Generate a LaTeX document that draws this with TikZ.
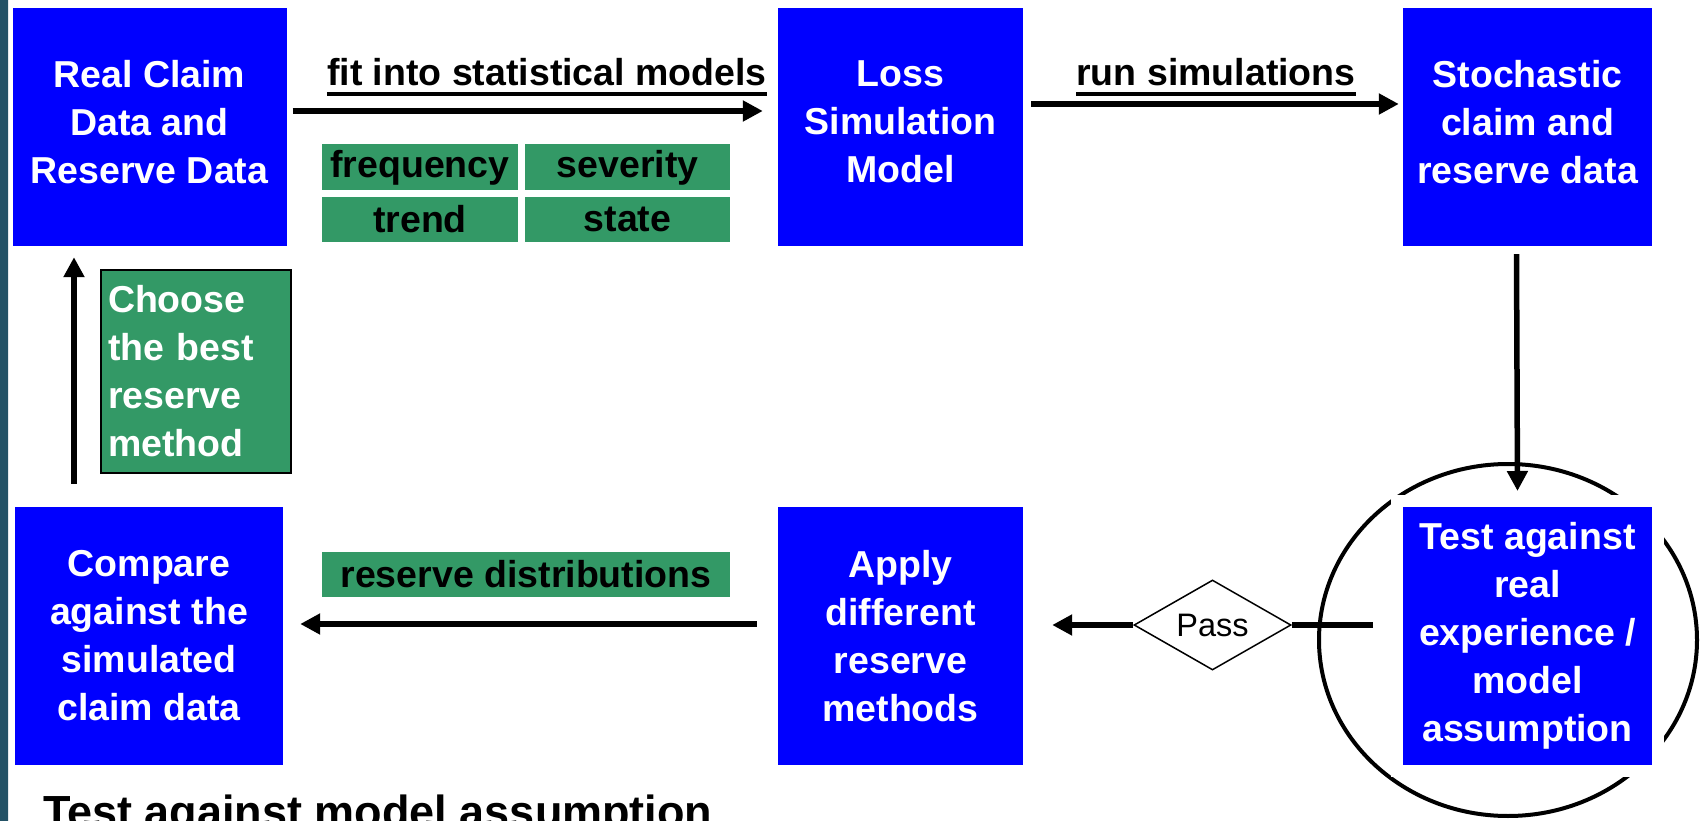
\documentclass[tikz,border=0pt]{standalone}
\usepackage{fontspec}
\setmainfont{Liberation Sans}
\usetikzlibrary{arrows.meta,shapes.geometric,calc}
\definecolor{boxblue}{RGB}{0,0,255}
\definecolor{boxgreen}{RGB}{51,153,102}
\definecolor{barteal}{RGB}{36,82,102}
\definecolor{bardark}{RGB}{13,24,32}
\begin{document}
\begin{tikzpicture}[x=1pt,y=-1pt,
  bluebox/.style={rectangle, fill=boxblue, text=white, inner sep=0pt,
    font=\fontsize{37.5}{48}\selectfont\bfseries, align=center},
  boxtext/.style={inner sep=0pt, text=white, align=center,
    font=\fontsize{37.5}{48}\selectfont\bfseries},
  greenbox/.style={rectangle, fill=boxgreen, text=black, inner sep=0pt,
    font=\fontsize{37.5}{45}\selectfont\bfseries},
  conn/.style={line width=5.5pt, -{Triangle[length=20pt,width=20pt]}},
  plainline/.style={line width=5.5pt},
  lbl/.style={inner sep=0pt, anchor=base, font=\fontsize{37.5}{45}\selectfont\bfseries},
  uline/.style={line width=4pt}]
\useasboundingbox (0,0) rectangle (1701,821);
% left dark bar
\shade[top color=barteal, middle color=bardark, bottom color=barteal] (0,0) rectangle (8,821);

% ellipse around test box
\draw[line width=4pt] (1508,640) ellipse [x radius=189, y radius=176];

% blue boxes
\node[bluebox, minimum width=274pt, minimum height=238pt] (real) at (149.5,127) {};
\node[boxtext] (realtxt) at ([yshift=5pt]real.center) {Real Claim\\Data and\\Reserve Data};
\node[bluebox, minimum width=245pt, minimum height=238pt] (loss) at (900.5,127) {};
\node[boxtext] (losstxt) at ([yshift=5pt]loss.center) {Loss\\Simulation\\Model};
\node[bluebox, minimum width=249pt, minimum height=238pt] (stoch) at (1527.5,127) {};
\node[boxtext] (stochtxt) at ([yshift=5pt]stoch.center) {Stochastic\\claim and\\reserve data};
\node[bluebox, draw=white, line width=12pt, minimum width=261pt, minimum height=270pt] (test) at (1527.5,636) {Test against\\real\\experience /\\model\\assumption};
\node[bluebox, minimum width=245pt, minimum height=258pt] (apply) at (900.5,636) {Apply\\different\\reserve\\methods};
\node[bluebox, minimum width=268pt, minimum height=258pt] (compare) at (149,636) {Compare\\against the\\simulated\\claim data};

% green tags
\node[greenbox, minimum width=196pt, minimum height=46pt] (freq) at (420,167.5) {frequency};
\node[greenbox, minimum width=205pt, minimum height=46pt] (sev) at (627.5,167.5) {severity};
\node[greenbox, minimum width=196pt, minimum height=45pt] (trend) at (420,219.5) {trend};
\node[greenbox, minimum width=205pt, minimum height=45pt] (state) at (627.5,219.5) {state};
\node[greenbox, minimum width=408pt, minimum height=45pt] (dist) at (526,574.5) {reserve distributions};
\node[greenbox, draw=black, line width=2pt, text=white, minimum width=190pt, minimum height=202pt,
  text width=176pt, align=left, font=\fontsize{37.5}{48}\selectfont\bfseries] (choose) at (196,371.5)
  {Choose\\the best\\reserve\\method};

% decision diamond
\node[diamond, draw, line width=1.5pt, fill=white, inner sep=0pt, aspect=1.7,
  minimum width=157pt, minimum height=90pt, font=\fontsize{32.5}{32}\selectfont] (pass) at (1212.5,625) {Pass};

% labels
\node[lbl] (fitlbl) at (547,86) {fit into statistical models};
\draw[uline] ([shift={(0,8)}]fitlbl.base west) -- ([shift={(0,8)}]fitlbl.base east);
\node[lbl] (runlbl) at (1216,86) {run simulations};
\draw[uline] ([shift={(0,8)}]runlbl.base west) -- ([shift={(0,8)}]runlbl.base east);

% connectors
\draw[conn] ([shift={(6,-16)}]real.east) -- ([shift={(-15,-16)}]loss.west);
\draw[conn] ([shift={(8,-23)}]loss.east) -- ([shift={(-4,-23)}]stoch.west);
\draw[conn] ([shift={(-11,8)}]stoch.south) -- ([shift={(-10,-4)}]test.north);
\draw[plainline] ([shift={(-18,-11)}]test.west) -- (pass.east);
\draw[conn] (pass.west) -- ([shift={(29,-11)}]apply.east);
\draw[conn] ([shift={(-21,-12)}]apply.west) -- ([shift={(17,-12)}]compare.east);
\draw[conn] ([shift={(-75,-23)}]compare.north) -- ([shift={(-75.5,11)}]real.south);

% bottom title
\node[inner sep=0pt, anchor=base west, font=\fontsize{45}{45}\selectfont\bfseries] (title) at (43,827) {Test against model assumption};
\end{tikzpicture}
\end{document}
